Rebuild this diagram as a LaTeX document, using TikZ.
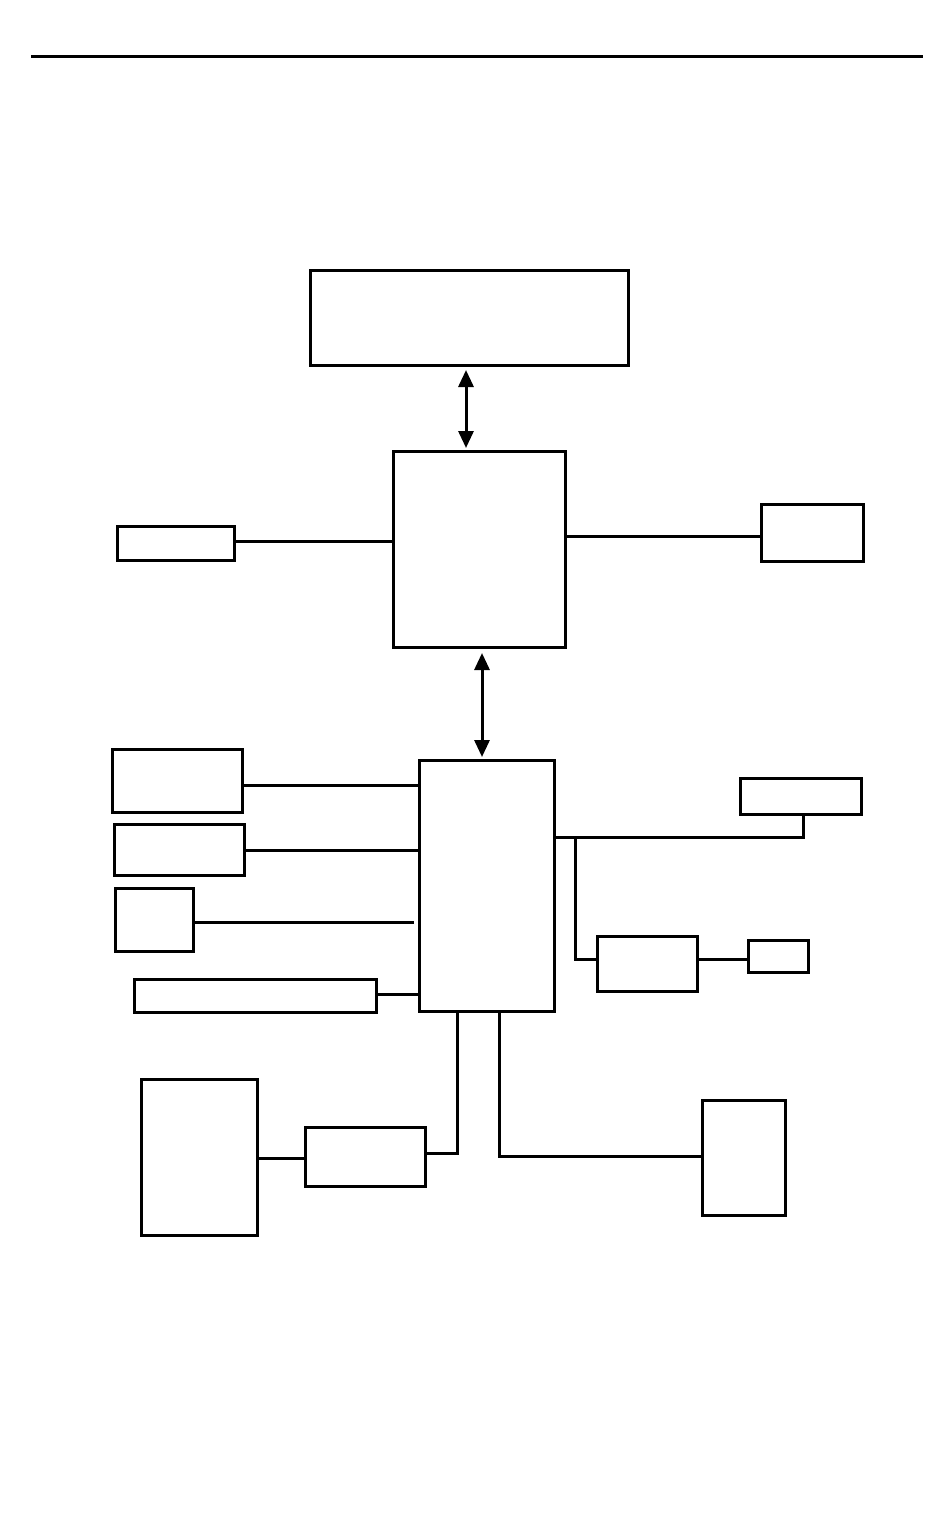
\documentclass[tikz,border=0pt]{standalone}
\usetikzlibrary{arrows.meta}
\begin{document}
\begin{tikzpicture}[x=1pt,y=-1pt,
  box/.style={draw=black,line width=3pt,inner sep=0pt,anchor=north west,fill=white},
  wire/.style={draw=black,line width=3pt},
  dblarrow/.style={wire,{Triangle[length=17pt,width=15pt]}-{Triangle[length=17pt,width=15pt]}}]
\useasboundingbox (0,0) rectangle (950,1515);
\coordinate (r1) at (31,56);
\coordinate (r2) at (923,56);
\draw[wire] (r1) -- (r2);
% boxes
\node[box,minimum width=318pt,minimum height=95pt] (A) at (309,269) {};
\node[box,minimum width=172pt,minimum height=196pt] (B) at (392,450) {};
\node[box,minimum width=117pt,minimum height=34pt] (L1) at (116,525) {};
\node[box,minimum width=102pt,minimum height=57pt] (R1) at (760,503) {};
\node[box,minimum width=135pt,minimum height=251pt] (C) at (418,759) {};
\node[box,minimum width=130pt,minimum height=63pt] (L2) at (111,748) {};
\node[box,minimum width=130pt,minimum height=51pt] (L3) at (113,823) {};
\node[box,minimum width=78pt,minimum height=63pt] (L4) at (114,887) {};
\node[box,minimum width=242pt,minimum height=33pt] (L5) at (133,978) {};
\node[box,minimum width=121pt,minimum height=36pt] (R2) at (739,777) {};
\node[box,minimum width=100pt,minimum height=55pt] (R3) at (596,935) {};
\node[box,minimum width=60pt,minimum height=32pt] (R4) at (747,939) {};
\node[box,minimum width=120pt,minimum height=59pt] (D) at (304,1126) {};
\node[box,minimum width=116pt,minimum height=156pt] (E) at (140,1078) {};
\node[box,minimum width=83pt,minimum height=115pt] (F) at (701,1099) {};
% arrows
\draw[dblarrow] (466,370) -- (466,448);
\draw[dblarrow] (482,653) -- (482,757);
% connectors
\draw[wire] (L1.east |- 0,541) -- (B.west |- 0,541);
\draw[wire] (B.east |- 0,536) -- (R1.west |- 0,536);
\draw[wire] (L2.east |- 0,785) -- (C.west |- 0,785);
\draw[wire] (L3.east |- 0,850) -- (C.west |- 0,850);
\coordinate (l4e) at (414,922);
\draw[wire] (L4.east |- 0,922) -- (l4e);
\draw[wire] (L5.east |- 0,994) -- (C.west |- 0,994);
\coordinate (j1) at (803,837);
\draw[wire] (C.east |- j1) -- (j1) -- (R2.south -| j1);
\coordinate (j2) at (575,837);
\coordinate (j3) at (575,959);
\draw[wire] (j2) -- (j3) -- (R3.west |- j3);
\draw[wire] (R3.east |- 0,959) -- (R4.west |- 0,959);
\coordinate (j4) at (457,1153);
\draw[wire] (C.south -| j4) -- (j4) -- (D.east |- j4);
\draw[wire] (D.west |- 0,1158) -- (E.east |- 0,1158);
\coordinate (j5) at (499,1156);
\draw[wire] (C.south -| j5) -- (j5) -- (F.west |- j5);
\end{tikzpicture}
\end{document}
